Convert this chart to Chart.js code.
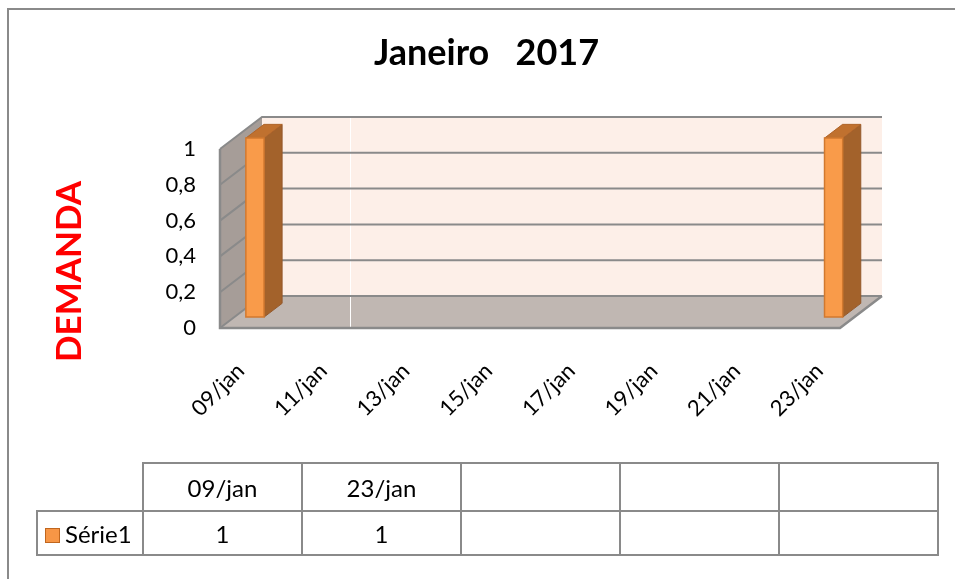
<!DOCTYPE html>
<html>
<head>
<meta charset="utf-8">
<script src="https://cdn.jsdelivr.net/npm/chart.js@4/dist/chart.umd.min.js"></script>
<style>
  html, body { margin: 0; padding: 0; background: #fff; overflow: hidden; }
  #frame { position: absolute; left: 7px; top: 8px; width: 1100px; height: 800px; border: 2px solid #8a8a8a; }
  #chart { position: absolute; left: 0; top: 0; }
  #dataTable { position: absolute; left: 36px; top: 462px; border-collapse: collapse; table-layout: fixed;
    font-family: Lato, Carlito, Calibri, sans-serif; font-size: 24px; color: #000; }
  #dataTable td { border: 2px solid #8a8a8a; text-align: center; padding: 0; }
  #dataTable tr.head td { height: 46px; }
  #dataTable tr.vals td { height: 42px; }
  #dataTable td.corner { border: none; }
  #dataTable td.name { text-align: left; padding-left: 7px; white-space: nowrap; }
  .key { display: inline-block; width: 13px; height: 13px; background: #f79646; border: 1.5px solid #c0661e;
    vertical-align: 0px; margin-right: 5px; }
</style>
</head>
<body>
<div id="frame"></div>
<canvas id="chart" width="955" height="579"></canvas>
<table id="dataTable"></table>

<script>
// Chart data
const chartTitle = "Janeiro   2017";
const axisTitle = "DEMANDA";
const categories = ["09/jan", "10/jan", "11/jan", "12/jan", "13/jan", "14/jan", "15/jan", "16/jan",
  "17/jan", "18/jan", "19/jan", "20/jan", "21/jan", "22/jan", "23/jan"];
const serieName = "Série1";
const serie1 = [1, null, null, null, null, null, null, null, null, null, null, null, null, null, 1];
const yTicks = ["0", "0,2", "0,4", "0,6", "0,8", "1"];
const tableColumnCount = 5;

// 3D look (offsets of the floor depth and of the bars inside it)
const depthX = 42, depthY = -32;
const barStart = 0.34, barSize = 0.43;

function poly(ctx, pts, fill, stroke, lw) {
  ctx.beginPath();
  ctx.moveTo(pts[0][0], pts[0][1]);
  for (let i = 1; i < pts.length; i++) ctx.lineTo(pts[i][0], pts[i][1]);
  ctx.closePath();
  if (fill) { ctx.fillStyle = fill; ctx.fill(); }
  if (stroke) { ctx.strokeStyle = stroke; ctx.lineWidth = lw || 1; ctx.stroke(); }
}

const threeD = {
  id: "threeD",
  beforeDatasetsDraw(chart) {
    const { ctx, chartArea: a, scales: { y } } = chart;
    const dx = depthX, dy = depthY;
    ctx.save();
    // walls and floor
    poly(ctx, [[a.left, a.top], [a.left + dx, a.top + dy], [a.left + dx, a.bottom + dy], [a.left, a.bottom]], "#a69d98");
    poly(ctx, [[a.left + dx, a.top + dy], [a.right + dx, a.top + dy], [a.right + dx, a.bottom + dy], [a.left + dx, a.bottom + dy]], "#fdefe8");
    poly(ctx, [[a.left, a.bottom], [a.right, a.bottom], [a.right + dx, a.bottom + dy], [a.left + dx, a.bottom + dy]], "#c0b7b2");

    // white seam seen on the original
    ctx.strokeStyle = "#ffffff";
    ctx.lineWidth = 1;
    ctx.beginPath();
    ctx.moveTo(350.5, a.top + dy);
    ctx.lineTo(350.5, a.bottom + 2);
    ctx.stroke();

    // gridlines on side wall and back wall
    ctx.strokeStyle = "#8a8a8a";
    ctx.lineWidth = 2;
    y.ticks.forEach(t => {
      const py = y.getPixelForValue(t.value);
      ctx.beginPath();
      ctx.moveTo(a.left, py);
      ctx.lineTo(a.left + dx, py + dy);
      ctx.lineTo(a.right + dx, py + dy);
      ctx.stroke();
    });
    // outer edges
    ctx.lineWidth = 2.5;
    ctx.beginPath();
    ctx.moveTo(a.left, a.top);
    ctx.lineTo(a.left, a.bottom);
    ctx.lineTo(a.right, a.bottom);
    ctx.lineTo(a.right + dx, a.bottom + dy);
    ctx.stroke();
    ctx.restore();
  },
  afterDatasetsDraw(chart) {
    const { ctx } = chart;
    const meta = chart.getDatasetMeta(0);
    const ox = depthX * barStart, oy = depthY * barStart;
    const bdx = depthX * barSize, bdy = depthY * barSize;
    ctx.save();
    meta.data.forEach((bar, i) => {
      if (serie1[i] == null) return;
      const p = bar.getProps(["x", "y", "base", "width"], true);
      const x0 = p.x - p.width / 2 + ox, x1 = p.x + p.width / 2 + ox;
      const t = p.y + oy, b = p.base + oy;
      poly(ctx, [[x1, t], [x1 + bdx, t + bdy], [x1 + bdx, b + bdy], [x1, b]], "#a3622b", "#94582a", 1);
      poly(ctx, [[x0, t], [x1, t], [x1 + bdx, t + bdy], [x0 + bdx, t + bdy]], "#c0712f", "#b0652a", 1);
      poly(ctx, [[x0, t], [x1, t], [x1, b], [x0, b]], "#f99b4a", "#d2792f", 1.5);
    });
    ctx.restore();
  },
  afterDraw(chart) {
    const ctx = chart.ctx;
    ctx.save();
    ctx.translate(69.5, 271.5);
    ctx.rotate(-Math.PI / 2);
    ctx.font = "bold 35px Lato, Carlito, Calibri, sans-serif";
    ctx.fillStyle = "#ff0000";
    ctx.textAlign = "center";
    ctx.textBaseline = "middle";
    ctx.fillText(axisTitle, 0, 0);
    ctx.restore();
  }
};

Chart.defaults.font.family = "Lato, Carlito, Calibri, sans-serif";
Chart.defaults.color = "#000";

new Chart(document.getElementById("chart"), {
  type: "bar",
  data: {
    labels: categories,
    datasets: [{
      label: serieName,
      data: serie1,
      backgroundColor: "rgba(0,0,0,0)",
      borderWidth: 0,
      barPercentage: 0.44,
      categoryPercentage: 1
    }]
  },
  options: {
    responsive: false,
    animation: false,
    devicePixelRatio: 1,
    layout: { padding: { left: 133, right: 115, top: 0, bottom: 151 } },
    plugins: {
      legend: { display: false },
      tooltip: { enabled: false },
      title: {
        display: true,
        text: chartTitle,
        font: { size: 36, weight: "bold" },
        color: "#000",
        padding: { top: 32, bottom: 73.8 }
      }
    },
    scales: {
      x: {
        grid: { display: false, drawTicks: false },
        border: { display: false },
        ticks: {
          autoSkip: false,
          maxRotation: 45,
          minRotation: 45,
          padding: 30,
          font: { size: 22 },
          callback: (v, i) => (i % 2 === 0 ? categories[i] : "")
        },
        afterFit: s => { s.height = 100; }
      },
      y: {
        min: 0,
        max: 1,
        grid: { display: false, drawTicks: false },
        border: { display: false },
        ticks: {
          stepSize: 0.2,
          padding: 24,
          font: { size: 22 },
          callback: (v, i) => yTicks[i]
        },
        afterFit: s => { s.width = 87; }
      }
    }
  },
  plugins: [threeD]
});

// data table under the chart
const filled = categories.map((c, i) => [c, serie1[i]]).filter(d => d[1] != null);
while (filled.length < tableColumnCount) filled.push(["", null]);
const table = document.getElementById("dataTable");
let head = '<colgroup><col style="width:106px">' + filled.map(() => '<col style="width:159px">').join("") + "</colgroup>";
head += '<tr class="head"><td class="corner"></td>' + filled.map(d => "<td>" + d[0] + "</td>").join("") + "</tr>";
head += '<tr class="vals"><td class="name"><span class="key"></span>' + serieName + "</td>" +
  filled.map(d => "<td>" + (d[1] == null ? "" : d[1]) + "</td>").join("") + "</tr>";
table.innerHTML = head;
</script>
</body>
</html>
